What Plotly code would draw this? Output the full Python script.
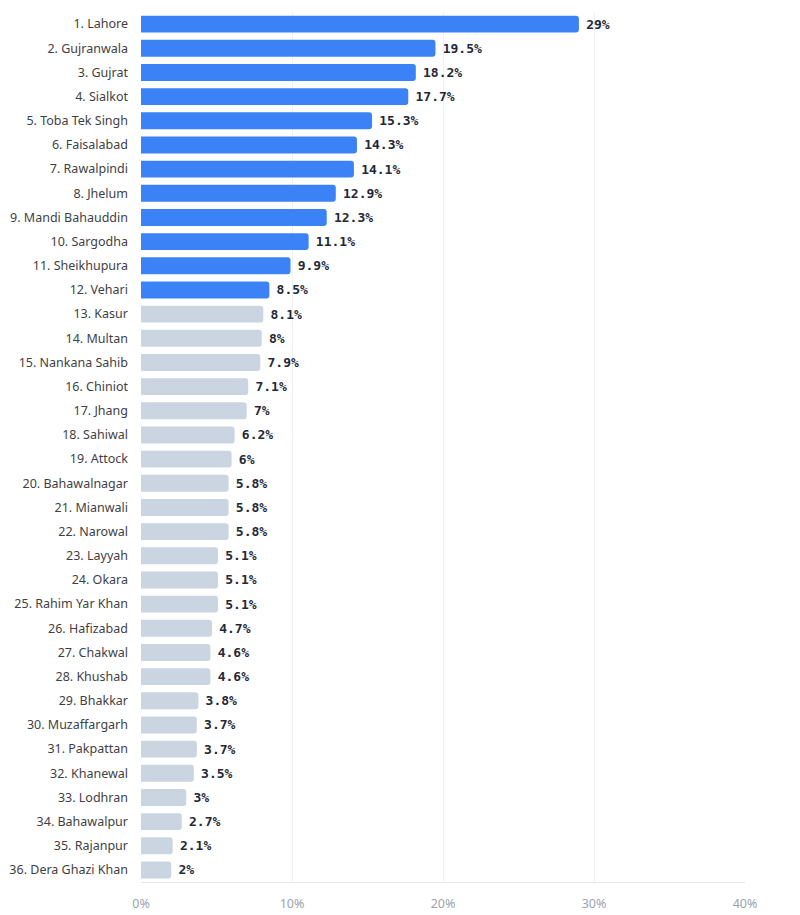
import plotly.graph_objects as go

districts = [
    "Lahore", "Gujranwala", "Gujrat", "Sialkot", "Toba Tek Singh", "Faisalabad",
    "Rawalpindi", "Jhelum", "Mandi Bahauddin", "Sargodha", "Sheikhupura", "Vehari",
    "Kasur", "Multan", "Nankana Sahib", "Chiniot", "Jhang", "Sahiwal", "Attock",
    "Bahawalnagar", "Mianwali", "Narowal", "Layyah", "Okara", "Rahim Yar Khan",
    "Hafizabad", "Chakwal", "Khushab", "Bhakkar", "Muzaffargarh", "Pakpattan",
    "Khanewal", "Lodhran", "Bahawalpur", "Rajanpur", "Dera Ghazi Khan",
]
values = [
    29, 19.5, 18.2, 17.7, 15.3, 14.3, 14.1, 12.9, 12.3, 11.1, 9.9, 8.5,
    8.1, 8, 7.9, 7.1, 7, 6.2, 6, 5.8, 5.8, 5.8, 5.1, 5.1, 5.1,
    4.7, 4.6, 4.6, 3.8, 3.7, 3.7, 3.5, 3, 2.7, 2.1, 2,
]
highlight_count = 12
x_ticks = [0, 10, 20, 30, 40]

labels = [f"{i + 1}. {d}" for i, d in enumerate(districts)]
colors = ["#3b82f6" if i < highlight_count else "#cbd5e1" for i in range(len(values))]
# small spacer so the value sits a bit further from the bar end
texts = [f'<span style="font-size:7px"> </span>{v:g}%' for v in values]

fig = go.Figure(
    go.Bar(
        x=values,
        y=labels,
        orientation="h",
        marker=dict(color=colors, line=dict(width=0), cornerradius=3),
        text=texts,
        textposition="outside",
        cliponaxis=False,
        textfont=dict(family="DejaVu Sans Mono", size=13, color="#1f2937", weight="bold"),
        hoverinfo="skip",
    )
)

# page body has an 8px margin, so the figure is a bit smaller than the window
fig.update_layout(
    width=792,
    height=907,
    margin=dict(l=133, r=55, t=4, b=33, autoexpand=False),
    plot_bgcolor="white",
    paper_bgcolor="white",
    bargap=0.3,
    showlegend=False,
    font=dict(family="Noto Sans", size=12.5, color="#3f3f46"),
)

fig.update_xaxes(
    range=[0, 40],
    tickvals=x_ticks,
    ticktext=[f"{t}%" for t in x_ticks],
    showgrid=True,
    gridcolor="#f1f1f1",
    gridwidth=1,
    zeroline=False,
    showline=True,
    linecolor="#e5e7eb",
    linewidth=1,
    tickfont=dict(size=12.5, color="#9ca3af"),
    ticks="",
    ticklabelstandoff=10,
    automargin=False,
)

fig.update_yaxes(
    categoryorder="array",
    categoryarray=labels[::-1],
    autorange=False,
    range=[-0.5, len(labels) - 0.5],
    showgrid=False,
    zeroline=False,
    showline=False,
    ticks="",
    ticklabelstandoff=12,
    automargin=False,
    tickfont=dict(size=12.5, color="#3f3f46"),
)

fig.write_html("out.html")
